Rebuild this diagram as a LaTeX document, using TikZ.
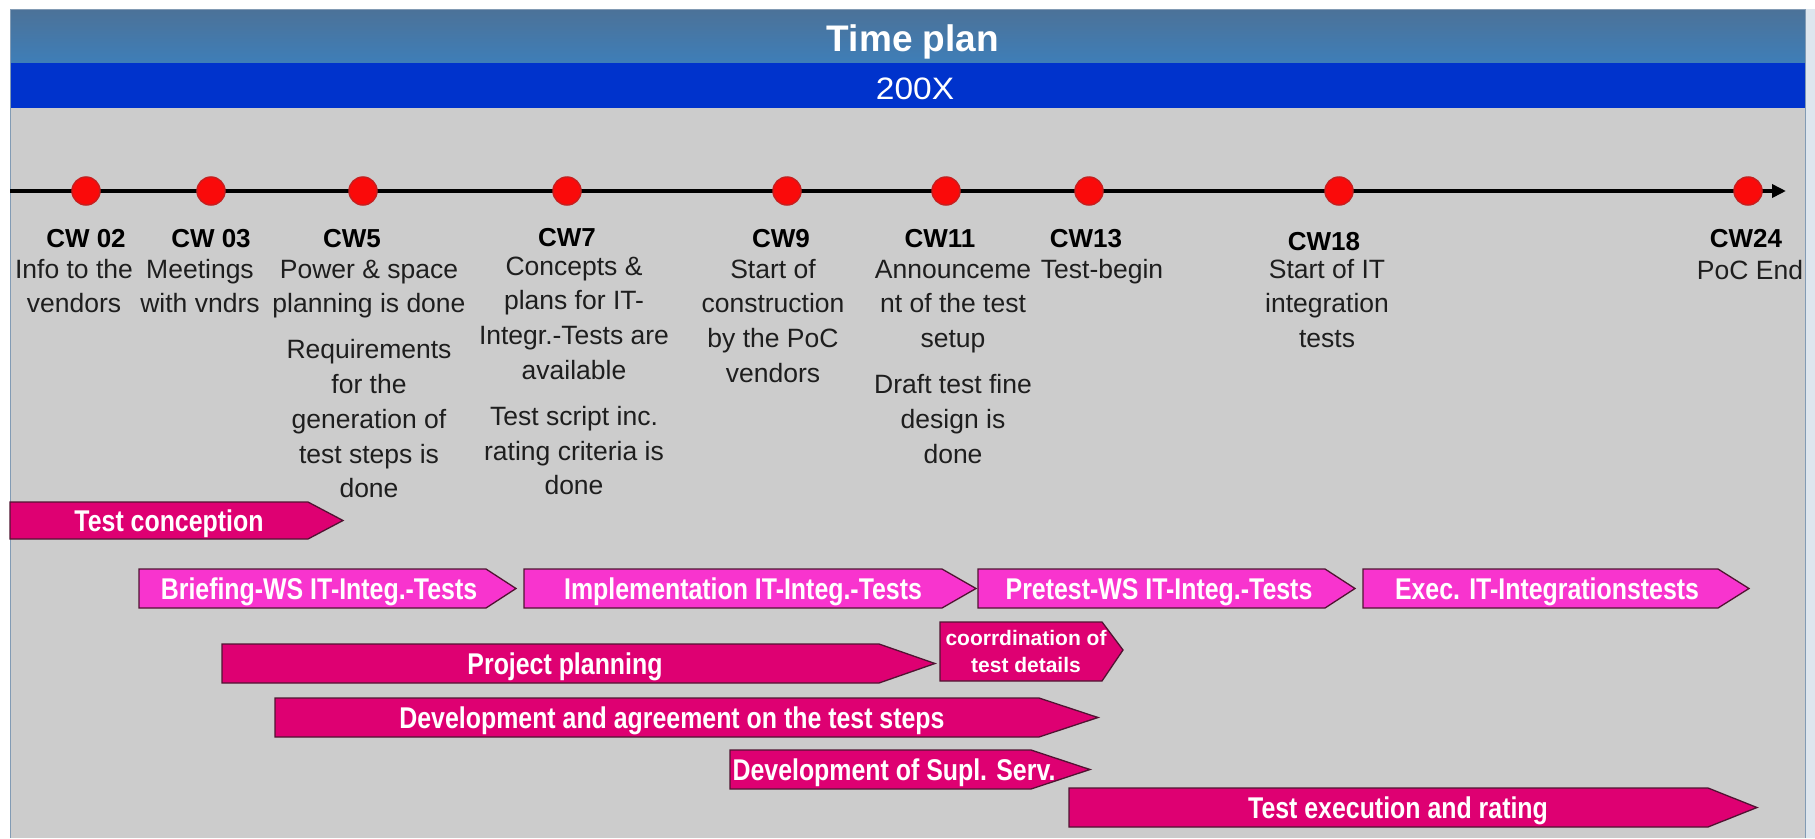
\documentclass[tikz,border=0pt]{standalone}
\usepackage{fontspec}
\setmainfont{Liberation Sans}
\newfontfamily\barfont{Liberation Sans}[FakeStretch=0.83]
\newfontfamily\yearfont{Liberation Sans}[FakeStretch=1.08]
\usetikzlibrary{arrows.meta}

\definecolor{framebg}{RGB}{204,204,204}
\definecolor{framebdr}{RGB}{130,155,180}
\definecolor{sidestrip}{RGB}{222,230,238}
\definecolor{headtop}{RGB}{76,114,152}
\definecolor{headbot}{RGB}{62,126,184}
\definecolor{yearblue}{RGB}{0,51,204}
\definecolor{phasedark}{RGB}{222,0,114}
\definecolor{phaselight}{RGB}{248,52,206}
\definecolor{phaseedge}{RGB}{80,20,50}
\definecolor{dotred}{RGB}{250,10,10}
\definecolor{dotrim}{RGB}{200,30,30}
\definecolor{textgrey}{RGB}{30,30,30}

% centred multi-line text whose baseline is that of its first line
\newcommand{\stack}[1]{\begin{tabular}[t]{@{}c@{}}#1\end{tabular}}

\tikzset{
  phaseframe/.style={draw=phaseedge, line width=1.3pt, line join=miter},
  phasetext/.style={anchor=base, inner sep=0pt, text=white,
    font=\barfont\bfseries\fontsize{30}{34}\selectfont},
  cwlabel/.style={anchor=base, inner sep=0pt, text=black,
    font=\bfseries\fontsize{26}{30}\selectfont},
  note/.style={anchor=base, inner sep=0pt, text=textgrey,
    font=\fontsize{26.5}{34.8}\selectfont},
  milestone/.style={circle, fill=dotred, draw=dotrim, line width=1.5pt,
    minimum size=28pt, inner sep=0pt},
}

% phase arrow: name, fill, left, body end, tip, top, bottom, text centre x, text
\newcommand{\phase}[9]{%
  \filldraw[phaseframe, fill=#2] (#3,#6) -- (#4,#6) -- (#5,{(#6+#7)/2})
    -- (#4,#7) -- (#3,#7) -- cycle;
  \node[phasetext] (#1) at (#8,{(#6+#7)/2+10.5}) {#9};
}

\begin{document}
\begin{tikzpicture}[x=1pt,y=-1pt]
\useasboundingbox (0,0) rectangle (1815,838);

% page, frame and header bands
\fill[white] (0,0) rectangle (1815,838);
\fill[sidestrip] (1805,9) rectangle (1815,838);
\fill[framebg] (10,108) rectangle (1805,838);
\shade[top color=headtop, bottom color=headbot] (10,9) rectangle (1805,63);
\fill[yearblue] (10,63) rectangle (1805,108);
\draw[framebdr, line width=1pt] (10,838) -- (10,9) -- (1805,9) -- (1805,838);

\node[anchor=base, inner sep=0pt, text=white,
      font=\bfseries\fontsize{37}{40}\selectfont] (title) at (913,51) {Time plan};
\node[anchor=base, inner sep=0pt, text=white,
      font=\yearfont\fontsize{31}{34}\selectfont] (year) at (915,99) {200X};

% time axis
\coordinate (axisstart) at (10,191);
\coordinate (axisend) at (1786,191);
\draw[line width=4pt, -{Triangle[length=14pt,width=13pt]}] (axisstart) -- (axisend);

\node[milestone] (m02) at (86,191) {};
\node[milestone] (m03) at (211,191) {};
\node[milestone] (m05) at (363,191) {};
\node[milestone] (m07) at (567,191) {};
\node[milestone] (m09) at (787,191) {};
\node[milestone] (m11) at (946,191) {};
\node[milestone] (m13) at (1089,191) {};
\node[milestone] (m18) at (1339,191) {};
\node[milestone] (m24) at (1748,191) {};

% calendar weeks
\node[cwlabel] (cw02) at (86,247) {CW 02};
\node[cwlabel] (cw03) at (211,247) {CW 03};
\node[cwlabel] (cw05) at (352,247) {CW5};
\node[cwlabel] (cw07) at (567,246) {CW7};
\node[cwlabel] (cw09) at (781,247) {CW9};
\node[cwlabel] (cw11) at (940,247) {CW11};
\node[cwlabel] (cw13) at (1086,247) {CW13};
\node[cwlabel] (cw18) at (1324,250) {CW18};
\node[cwlabel] (cw24) at (1746,247) {CW24};

% milestone notes
\node[note] (n02) at (74,278) {\stack{Info to the\\vendors}};
\node[note] (n03) at (200,278) {\stack{Meetings\\with vndrs}};
\node[note] (n05) at (369,278) {\stack{Power \& space\\planning is done\\[11pt]
  Requirements\\for the\\generation of\\test steps is\\done}};
\node[note] (n07) at (574,275) {\stack{Concepts \&\\plans for IT-\\Integr.-Tests are\\available\\[11pt]
  Test script inc.\\rating criteria is\\done}};
\node[note] (n09) at (773,278) {\stack{Start of\\construction\\by the PoC\\vendors}};
\node[note] (n11) at (953,278) {\stack{Announceme\\nt of the test\\setup\\[11pt]
  Draft test fine\\design is\\done}};
\node[note] (n13) at (1102,278) {Test-begin};
\node[note] (n18) at (1327,278) {\stack{Start of IT\\integration\\tests}};
\node[note] (n24) at (1750,279) {PoC End};

% phases
\phase{conc}{phasedark}{10}{308}{343}{502}{539}{169}{Test conception}
\phase{brief}{phaselight}{139}{486}{516}{569}{608}{319}{Briefing-WS IT-Integ.-Tests}
\phase{impl}{phaselight}{524}{942}{976}{569}{608}{743}{Implementation IT-Integ.-Tests}
\phase{pretest}{phaselight}{978}{1325}{1355}{569}{608}{1159}{Pretest-WS IT-Integ.-Tests}
\phase{execit}{phaselight}{1363}{1718}{1749}{569}{608}{1547}{Exec. IT-Integrationstests}
\phase{plan}{phasedark}{222}{879}{935}{644}{683}{565}{Project planning}
\phase{agree}{phasedark}{275}{1039}{1098}{698}{737}{672}{Development and agreement on the test steps}
\phase{supl}{phasedark}{730}{1031}{1090}{750}{789}{894}{Development of Supl. Serv.}
\phase{rating}{phasedark}{1069}{1708}{1757}{788}{827}{1398}{Test execution and rating}

\filldraw[phaseframe, fill=phasedark] (940,622) -- (1102,622) -- (1123,650)
  -- (1102,681) -- (940,681) -- cycle;
\node[anchor=base, inner sep=0pt, text=white,
      font=\bfseries\fontsize{21}{27}\selectfont] (coord) at (1026,645)
  {\stack{coorrdination of\\test details}};
\end{tikzpicture}
\end{document}
